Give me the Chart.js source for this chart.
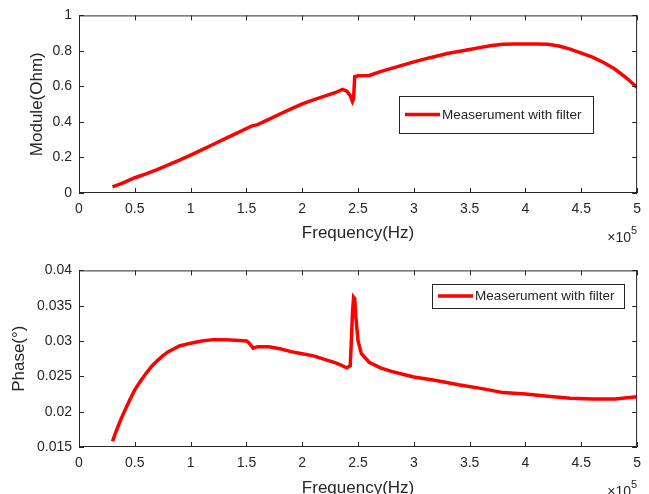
<!DOCTYPE html>
<html lang="en">
<head>
  <meta charset="UTF-8" />
  <title>Module and Phase</title>
  <script src="https://cdn.jsdelivr.net/npm/chart.js"></script>
  <style>
    body {
      margin: 0;
      padding: 0;
      background: #ffffff;
      width: 649px;
      height: 494px;
      overflow: hidden;
      position: relative;
    }
    .box {
      position: absolute;
      left: 0;
      width: 649px;
      height: 247px;
    }
  </style>
</head>
<body>
  <div class="box" style="top:0"><canvas id="moduleChart"></canvas></div>
  <div class="box" style="top:255px"><canvas id="phaseChart"></canvas></div>

  <script>
    // frequency in units of 1e5 Hz
    const moduleFreq = [0.30, 0.40, 0.50, 0.60, 0.70, 0.80, 0.90, 1.00, 1.10, 1.20, 1.30, 1.40, 1.50, 1.55, 1.60,
      1.70, 1.80, 1.90, 2.00, 2.10, 2.20, 2.30, 2.36, 2.40, 2.43, 2.45, 2.46, 2.47, 2.50, 2.60, 2.70, 2.80, 2.90,
      3.00, 3.10, 3.20, 3.30, 3.40, 3.50, 3.60, 3.70, 3.80, 3.90, 4.00, 4.10, 4.20, 4.30, 4.40, 4.50, 4.60, 4.70,
      4.80, 4.90, 5.00];
    const moduleValues = [0.035, 0.058, 0.086, 0.108, 0.132, 0.158, 0.185, 0.213, 0.243, 0.273, 0.303, 0.333, 0.363, 0.378, 0.385,
      0.415, 0.445, 0.474, 0.502, 0.524, 0.545, 0.566, 0.583, 0.573, 0.548, 0.515, 0.530, 0.655, 0.660, 0.662, 0.683, 0.702, 0.720,
      0.738, 0.755, 0.770, 0.785, 0.797, 0.808, 0.820, 0.830, 0.838, 0.839, 0.839, 0.839, 0.837, 0.828, 0.810, 0.787, 0.765, 0.735,
      0.698, 0.650, 0.594];

    const phaseFreq = [0.30, 0.325, 0.35, 0.375, 0.40, 0.45, 0.50, 0.55, 0.60, 0.65, 0.70, 0.75, 0.80, 0.90, 1.00, 1.10, 1.20, 1.30, 1.40, 1.50,
      1.52, 1.56, 1.60, 1.70, 1.80, 1.90, 2.00, 2.10, 2.20, 2.30, 2.40, 2.43, 2.44, 2.45, 2.46, 2.47, 2.48, 2.50, 2.53,
      2.60, 2.70, 2.80, 2.90, 3.00, 3.20, 3.40, 3.60, 3.80, 4.00, 4.20, 4.40, 4.60, 4.80, 5.00];
    const phaseValues = [0.0158, 0.0169, 0.0179, 0.0189, 0.0198, 0.0215, 0.0231, 0.0243, 0.0254, 0.0264, 0.0272, 0.0279, 0.0285, 0.0293, 0.0297, 0.0300, 0.0302, 0.0302, 0.0301, 0.0300,
      0.0298, 0.0290, 0.0292, 0.0292, 0.0289, 0.0285, 0.0282, 0.0279, 0.0274, 0.0269, 0.0262, 0.0265, 0.0300, 0.0340, 0.0362, 0.0360, 0.0335, 0.0300, 0.0282,
      0.0270, 0.0262, 0.0257, 0.0253, 0.0249, 0.0244, 0.0238, 0.0233, 0.0227, 0.0225, 0.0222, 0.0219, 0.0218, 0.0218, 0.0221];

    const xTicks = [0, 0.5, 1, 1.5, 2, 2.5, 3, 3.5, 4, 4.5, 5];
    const moduleTicks = [0, 0.2, 0.4, 0.6, 0.8, 1];
    const phaseTicks = [0.015, 0.02, 0.025, 0.03, 0.035, 0.04];
    const seriesLabel = 'Measerument with filter';

    const ink = '#262626';
    const FONT = "'Liberation Sans', Arial, sans-serif";

    // box, inward ticks on all sides, x10^5 marker and boxed legend
    const matlabAxes = {
      id: 'matlabAxes',
      afterDraw(chart, args, opts) {
        const ctx = chart.ctx;
        const a = chart.chartArea;
        const xs = chart.scales.x, ys = chart.scales.y;
        ctx.save();
        ctx.strokeStyle = ink;
        ctx.lineWidth = 1;
        ctx.strokeRect(a.left + 0.5, a.top + 0.5, a.right - a.left - 1, a.bottom - a.top - 1);
        ctx.beginPath();
        xTicks.forEach(v => {
          const px = Math.round(xs.getPixelForValue(v)) + 0.5;
          ctx.moveTo(px, a.bottom); ctx.lineTo(px, a.bottom - 5);
          ctx.moveTo(px, a.top); ctx.lineTo(px, a.top + 5);
        });
        opts.yTicks.forEach(v => {
          const py = Math.round(ys.getPixelForValue(v)) + 0.5;
          ctx.moveTo(a.left, py); ctx.lineTo(a.left + 5, py);
          ctx.moveTo(a.right, py); ctx.lineTo(a.right - 5, py);
        });
        ctx.stroke();

        // x10^5
        ctx.fillStyle = ink;
        ctx.textBaseline = 'alphabetic';
        ctx.textAlign = 'right';
        ctx.font = '11px ' + FONT;
        ctx.fillText('5', a.right, a.bottom + 41);
        const w5 = ctx.measureText('5').width;
        ctx.font = '14px ' + FONT;
        ctx.fillText('\u00d710', a.right - w5, a.bottom + 49);

        // legend
        const L = opts.legend;
        ctx.fillStyle = '#ffffff';
        ctx.fillRect(L.x, L.y, L.w, L.h);
        ctx.strokeStyle = ink;
        ctx.strokeRect(L.x + 0.5, L.y + 0.5, L.w, L.h);
        const ly = L.y + L.h / 2;
        ctx.strokeStyle = chart.data.datasets[0].borderColor;
        ctx.lineWidth = 3.5;
        ctx.beginPath();
        ctx.moveTo(L.x + 6, ly); ctx.lineTo(L.x + 41, ly);
        ctx.stroke();
        ctx.fillStyle = ink;
        ctx.textAlign = 'left';
        ctx.textBaseline = 'middle';
        ctx.font = '13.5px ' + FONT;
        ctx.fillText(chart.data.datasets[0].label, L.x + 43, ly + 0.5);
        ctx.restore();
      }
    };

    function makeChart(id, freq, values, yMin, yMax, yTicks, yTitle, yTitlePad, xAxisHeight, legend) {
      const pts = freq.map((f, i) => ({ x: f, y: values[i] }));
      return new Chart(document.getElementById(id), {
        type: 'line',
        data: {
          datasets: [{
            label: seriesLabel,
            data: pts,
            borderColor: '#ff0000',
            borderWidth: 3.5,
            pointRadius: 0,
            tension: 0,
            fill: false
          }]
        },
        options: {
          responsive: true,
          maintainAspectRatio: false,
          animation: false,
          layout: { padding: { top: 15, right: 10, left: 0, bottom: 0 } },
          plugins: {
            legend: { display: false },
            tooltip: { enabled: false },
            matlabAxes: { yTicks: yTicks, legend: legend }
          },
          scales: {
            x: {
              type: 'linear',
              min: 0, max: 5,
              afterFit: s => { s.height = xAxisHeight; },
              afterBuildTicks: s => { s.ticks = xTicks.map(v => ({ value: v })); },
              grid: { display: false, drawTicks: false },
              border: { display: false },
              ticks: {
                padding: 8,
                color: ink,
                font: { family: FONT, size: 14 },
                callback: v => String(v)
              },
              title: {
                display: true,
                text: 'Frequency(Hz)',
                color: ink,
                font: { family: FONT, size: 17 },
                padding: { top: 0, bottom: 3 }
              }
            },
            y: {
              min: yMin, max: yMax,
              afterFit: s => { s.width = 79; },
              afterBuildTicks: s => { s.ticks = yTicks.map(v => ({ value: v })); },
              grid: { display: false, drawTicks: false },
              border: { display: false },
              ticks: {
                padding: 7,
                color: ink,
                font: { family: FONT, size: 14 },
                callback: v => String(+v.toFixed(4))
              },
              title: {
                display: true,
                text: yTitle,
                color: ink,
                font: { family: FONT, size: 17 },
                padding: { top: yTitlePad, bottom: 0 }
              }
            }
          }
        },
        plugins: [matlabAxes]
      });
    }

    makeChart('moduleChart', moduleFreq, moduleValues, 0, 1, moduleTicks, 'Module(Ohm)', 27, 54,
      { x: 399, y: 96, w: 194, h: 37 });
    makeChart('phaseChart', phaseFreq, phaseValues, 0.015, 0.04, phaseTicks, 'Phase(\u00b0)', 9, 55,
      { x: 432, y: 29, w: 192, h: 24 });
  </script>
</body>
</html>
